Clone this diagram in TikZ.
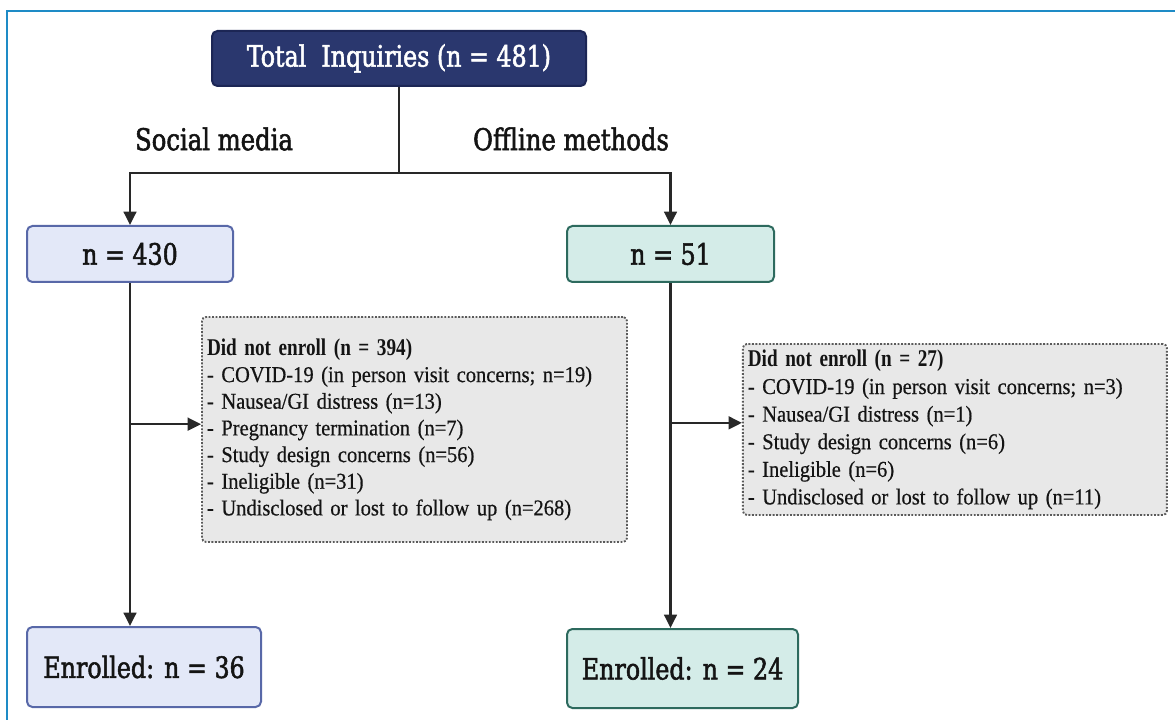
\documentclass[tikz,border=0pt]{standalone}
\usepackage{fontspec}
\setmainfont{Liberation Serif}
\newfontfamily\headfont[FakeStretch=0.9, FakeBold=1.8]{DejaVu Serif Condensed}
\newfontfamily\notefont[FakeStretch=0.905, FakeBold=0.5]{Liberation Serif}
\newfontfamily\notehead[FakeStretch=0.8]{Liberation Serif}
\usetikzlibrary{positioning, arrows.meta}
\definecolor{navy}{RGB}{42,55,110}
\definecolor{navydark}{RGB}{28,38,85}
\definecolor{smfill}{RGB}{227,232,248}
\definecolor{smdraw}{RGB}{88,104,168}
\definecolor{offfill}{RGB}{212,236,232}
\definecolor{offdraw}{RGB}{45,106,94}
\definecolor{notefill}{RGB}{232,232,232}
\definecolor{notedraw}{RGB}{90,90,90}
\definecolor{linecol}{RGB}{40,40,40}
\definecolor{ink}{RGB}{20,20,20}
\definecolor{framecol}{RGB}{30,139,198}

\begin{document}
\begin{tikzpicture}[
		x=0.75pt, y=-0.75pt,
		head/.style={rounded corners=4pt, line width=1.5pt, minimum height=42pt, inner sep=0pt, font=\headfont\fontsize{22}{26}\selectfont, text=ink},
		topbox/.style={head, fill=navy, draw=navydark, text=white, minimum width=280.5pt, minimum height=41.25pt},
		smbox/.style={head, fill=smfill, draw=smdraw},
		offbox/.style={head, fill=offfill, draw=offdraw},
		note/.style={draw=notedraw, fill=notefill, line width=1.4pt, dash pattern=on 1.4pt off 1.2pt, rounded corners=3pt, align=left, inner xsep=3.75pt, inner ysep=0pt, text width=311pt, font=\notefont\fontsize{17}{20}\selectfont, text=ink},
		lbl/.style={font=\headfont\fontsize{22.5}{26}\selectfont, text=ink},
		line/.style={draw=linecol, line width=1.8pt},
		arrow/.style={line, -{Triangle[length=10pt, width=9.5pt]}},
		frame/.style={draw=framecol, line width=2pt}
		]
		
		\useasboundingbox (0,0) rectangle (1175,720);
		\draw[frame] (7,722) -- (7,11) -- (1177,11);
		
		% ==========================================
		% TOP: all inquiries and the two channels
		% ==========================================
		\node[topbox] (total) at (399,58.5) {Total~ Inquiries (n = 481)};
		\coordinate (split) at (399,173);
		
		\node[lbl] (lbl_sm) at (214,139) {Social media};
		\node[lbl] (lbl_off) at (571,139) {Offline methods};
		
		\node[smbox, minimum width=154.5pt] (sm) at (130,254) {n = 430};
		\node[offbox, minimum width=155.25pt, right=249pt of sm] (off) {n = 51};
		
		\draw[line] (total) -- (split);
		\draw[arrow] (split) -| (sm);
		\draw[arrow] (split) -| (off);
		
		% ==========================================
		% MIDDLE: did not enroll
		% ==========================================
		\node[note, minimum height=168.75pt, text width=311.25pt] (nd_sm) at (414.5,429.5) {
			{\notehead\bfseries\fontsize{18}{20}\selectfont Did not enroll (n = 394)} \\
			- COVID-19 (in person visit concerns; n=19) \\
			- Nausea/GI distress (n=13) \\
			- Pregnancy termination (n=7) \\
			- Study design concerns (n=56) \\
			- Ineligible (n=31) \\
			- Undisclosed or lost to follow up (n=268)
		};
		\node[note, font=\notefont\fontsize{17}{20.7}\selectfont, minimum height=128.25pt, text width=310.5pt, right=85.5pt of nd_sm] (nd_off) {
			{\notehead\bfseries\fontsize{18}{20.7}\selectfont Did not enroll (n = 27)} \\
			- COVID-19 (in person visit concerns; n=3) \\
			- Nausea/GI distress (n=1) \\
			- Study design concerns (n=6) \\
			- Ineligible (n=6) \\
			- Undisclosed or lost to follow up (n=11)
		};
		
		% ==========================================
		% BOTTOM: enrolled
		% ==========================================
		\node[smbox, minimum width=175.5pt, minimum height=60pt, below=257.25pt of sm.south west, anchor=north west] (enr_sm) {Enrolled: n = 36};
		\node[offbox, minimum width=173.25pt, minimum height=59.25pt, below=258.75pt of off.south west, anchor=north west] (enr_off) {Enrolled: n = 24};
		
		\draw[arrow] (sm) -- (sm |- enr_sm.north);
		\draw[arrow] (off) -- (off |- enr_off.north);
		\draw[arrow] ([yshift=4pt]sm.south |- nd_sm.west) -- ([yshift=4pt]nd_sm.west);
		\draw[arrow] ([yshift=5pt]off.south |- nd_off.west) -- ([yshift=5pt]nd_off.west);
		
	\end{tikzpicture}
\end{document}
